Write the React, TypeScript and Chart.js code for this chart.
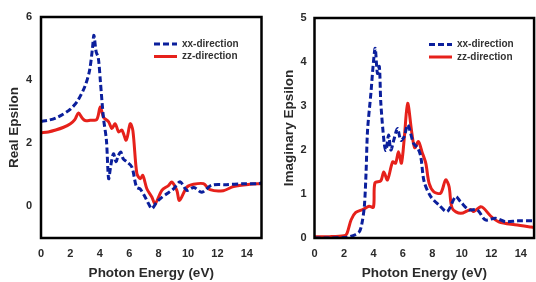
import React, { useEffect, useRef } from 'react';
import { Chart, registerables } from 'chart.js';

Chart.register(...registerables);

// ---------- data ----------
const xTicks = [0, 2, 4, 6, 8, 10, 12, 14];
const legendLabels = ['xx-direction', 'zz-direction'];

// Real epsilon, xx-direction
const realXxEnergy = [0, 0.5, 1, 1.5, 2, 2.5, 3, 3.3, 3.5, 3.6, 3.75, 3.9, 4.05, 4.25, 4.45, 4.6, 4.75, 4.93, 5.1, 5.25, 5.43, 5.6, 5.84, 6.18, 6.5, 6.75, 7.08, 7.3, 7.54, 7.88, 8.2, 8.56, 9.0, 9.46, 9.92, 10.4, 10.94, 11.6, 12.6, 13.7, 14.8, 15];
const realXxValue = [2.7, 2.73, 2.8, 2.92, 3.08, 3.35, 3.82, 4.3, 5.0, 5.42, 4.9, 4.7, 3.9, 2.8, 2.1, 0.88, 1.3, 1.67, 1.42, 1.6, 1.72, 1.5, 1.41, 1.25, 0.61, 0.55, 0.3, 0.1, -0.07, 0.14, 0.28, 0.4, 0.55, 0.78, 0.51, 0.6, 0.45, 0.67, 0.69, 0.72, 0.72, 0.75];

// Real epsilon, zz-direction
const realZzEnergy = [0, 0.5, 1, 1.5, 2, 2.3, 2.55, 2.8, 3.0, 3.35, 3.8, 4.03, 4.26, 4.6, 4.82, 5.05, 5.28, 5.5, 5.8, 6.07, 6.25, 6.52, 6.75, 6.93, 7.2, 7.54, 7.77, 8.22, 8.67, 8.9, 9.24, 9.42, 9.92, 10.37, 11.05, 11.5, 12.4, 13.1, 14.2, 15];
const realZzValue = [2.33, 2.36, 2.42, 2.5, 2.62, 2.75, 2.96, 2.8, 2.72, 2.73, 2.76, 3.15, 2.82, 2.68, 2.47, 2.62, 2.36, 2.42, 2.1, 2.62, 2.4, 1.04, 0.88, 0.98, 0.56, 0.3, 0.09, 0.51, 0.66, 0.77, 0.51, 0.19, 0.61, 0.7, 0.72, 0.53, 0.5, 0.63, 0.7, 0.72];

// Imaginary epsilon, xx-direction
const imagXxEnergy = [0, 1, 2, 2.4, 2.8, 3.04, 3.2, 3.38, 3.5, 3.6, 3.83, 4.0, 4.12, 4.27, 4.4, 4.5, 4.73, 4.85, 5.03, 5.18, 5.4, 5.63, 5.86, 6.08, 6.33, 6.72, 7.0, 7.21, 7.44, 7.89, 8.45, 9.0, 9.58, 9.92, 10.48, 11.04, 11.6, 12.28, 12.96, 13.8, 14.8, 15];
const imagXxValue = [0, 0, 0.01, 0.03, 0.08, 0.14, 0.3, 0.71, 1.5, 2.45, 3.3, 4.0, 4.31, 3.74, 3.9, 3.07, 2.15, 1.99, 2.34, 2.0, 2.25, 2.49, 2.22, 2.3, 2.57, 2.15, 2.05, 1.85, 1.28, 0.94, 0.75, 0.6, 0.94, 0.82, 0.64, 0.64, 0.41, 0.45, 0.37, 0.39, 0.39, 0.38];

// Imaginary epsilon, zz-direction
const imagZzEnergy = [0, 1, 2, 2.2, 2.48, 2.8, 3.3, 3.7, 4.0, 4.1, 4.5, 4.7, 4.95, 5.3, 5.5, 5.7, 5.9, 6.1, 6.32, 6.6, 6.8, 7.05, 7.3, 7.55, 7.78, 8.1, 8.56, 8.9, 9.13, 9.35, 9.92, 10.6, 10.8, 11.27, 11.5, 11.95, 12.5, 13.6, 14.7, 15];
const imagZzValue = [0.03, 0.03, 0.05, 0.1, 0.41, 0.58, 0.65, 0.72, 0.7, 1.25, 1.3, 1.5, 1.32, 1.73, 1.7, 1.96, 1.7, 2.3, 3.06, 2.4, 2.05, 2.19, 1.95, 1.7, 1.24, 1.05, 1.02, 1.32, 1.17, 0.67, 0.56, 0.65, 0.6, 0.71, 0.67, 0.5, 0.37, 0.3, 0.25, 0.24];

const realYTicks = [0, 2, 4, 6];
const imagYTicks = [0, 1, 2, 3, 4, 5];

// ---------- styles ----------
const BLUE = '#0b1f9c';
const RED = '#e6211b';
const FONT = "'Liberation Sans', Arial, sans-serif";
const TEXT = '#2a2a2a';

const toPoints = (xs: number[], ys: number[]) => xs.map((x, i) => ({ x, y: ys[i] }));

const framePlugin = {
  id: 'frame',
  afterDatasetsDraw(chart: any) {
    const { ctx, chartArea: a } = chart;
    ctx.save();
    ctx.strokeStyle = '#000';
    ctx.lineWidth = 2.5;
    ctx.strokeRect(a.left, a.top, a.right - a.left, a.bottom - a.top);
    ctx.restore();
  },
};

const makeLegendPlugin = (lx: number, ly: number) => ({
  id: 'customLegend',
  afterDraw(chart: any) {
    const { ctx } = chart;
    ctx.save();
    ctx.font = `bold 10px ${FONT}`;
    ctx.textBaseline = 'middle';
    ctx.fillStyle = '#333';
    chart.data.datasets.forEach((ds: any, i: number) => {
      const y = ly + i * 12.5;
      ctx.strokeStyle = ds.borderColor;
      ctx.lineWidth = 3;
      ctx.setLineDash(ds.borderDash || []);
      ctx.beginPath();
      ctx.moveTo(lx, y);
      ctx.lineTo(lx + 23, y);
      ctx.stroke();
      ctx.setLineDash([]);
      ctx.fillText(ds.label, lx + 28, y);
    });
    ctx.restore();
  },
});

interface PanelProps {
  xx: { x: number; y: number }[];
  zz: { x: number; y: number }[];
  yMin: number;
  yMax: number;
  yTicks: number[];
  xMax: number;
  yTitle: string;
  yWidth: number;
  padTop: number;
  padRight: number;
  yTitlePad: number;
  yTickPad: number;
  legendX: number;
  legendY: number;
}

function Panel(p: PanelProps) {
  const ref = useRef<HTMLCanvasElement | null>(null);
  useEffect(() => {
    if (!ref.current) return;
    const chart = new Chart(ref.current, {
      type: 'line',
      data: {
        datasets: [
          {
            label: legendLabels[0],
            data: p.xx,
            borderColor: BLUE,
            borderWidth: 3,
            borderDash: [6, 3],
            pointRadius: 0,
            tension: 0.3,
            fill: false,
          },
          {
            label: legendLabels[1],
            data: p.zz,
            borderColor: RED,
            borderWidth: 3,
            pointRadius: 0,
            tension: 0.3,
            fill: false,
          },
        ],
      },
      options: {
        animation: false,
        responsive: false,
        devicePixelRatio: 1,
        layout: { padding: { top: p.padTop, right: p.padRight, left: 0, bottom: 0 } },
        plugins: { legend: { display: false }, tooltip: { enabled: false } },
        scales: {
          x: {
            type: 'linear',
            min: 0,
            max: p.xMax,
            afterBuildTicks: (s: any) => {
              s.ticks = xTicks.map((v) => ({ value: v }));
            },
            ticks: {
              font: { family: FONT, size: 11, weight: 'bold' },
              color: TEXT,
              padding: 9,
              maxRotation: 0,
              autoSkip: false,
            },
            grid: { display: false, drawTicks: false },
            border: { display: false },
            title: {
              display: true,
              text: 'Photon Energy (eV)',
              font: { family: FONT, size: 13.5, weight: 'bold' },
              color: TEXT,
              padding: { top: 1, bottom: 1 },
            },
            afterFit: (s: any) => {
              s.height = 44;
            },
          },
          y: {
            type: 'linear',
            min: p.yMin,
            max: p.yMax,
            afterBuildTicks: (s: any) => {
              s.ticks = p.yTicks.map((v) => ({ value: v }));
            },
            ticks: {
              font: { family: FONT, size: 11, weight: 'bold' },
              color: TEXT,
              padding: p.yTickPad,
            },
            grid: { display: false, drawTicks: false },
            border: { display: false },
            title: {
              display: true,
              text: p.yTitle,
              font: { family: FONT, size: 13.5, weight: 'bold' },
              color: TEXT,
              padding: { top: p.yTitlePad, bottom: 0 },
            },
            afterFit: (s: any) => {
              s.width = p.yWidth;
            },
          },
        },
      } as any,
      plugins: [framePlugin, makeLegendPlugin(p.legendX, p.legendY)],
    });
    return () => chart.destroy();
  }, []);
  return <canvas ref={ref} width={268} height={282} style={{ display: 'block', width: 268, height: 282 }} />;
}

export default function App() {
  return (
    <div style={{ position: 'absolute', left: 0, top: 0, width: 536, height: 282, display: 'flex', background: '#fff' }}>
      <Panel
        xx={toPoints(realXxEnergy, realXxValue)}
        zz={toPoints(realZzEnergy, realZzValue)}
        yMin={-1}
        yMax={6}
        yTicks={realYTicks}
        xMax={15}
        yTitle="Real Epsilon"
        yWidth={41}
        padTop={17}
        padRight={6.5}
        yTitlePad={6}
        yTickPad={9}
        legendX={154}
        legendY={44}
      />
      <Panel
        xx={toPoints(imagXxEnergy, imagXxValue)}
        zz={toPoints(imagZzEnergy, imagZzValue)}
        yMin={0}
        yMax={5}
        yTicks={imagYTicks}
        xMax={14.9}
        yTitle="Imaginary Epsilon"
        yWidth={46.5}
        padTop={18}
        padRight={1}
        yTitlePad={13}
        yTickPad={8}
        legendX={161}
        legendY={44.5}
      />
    </div>
  );
}
